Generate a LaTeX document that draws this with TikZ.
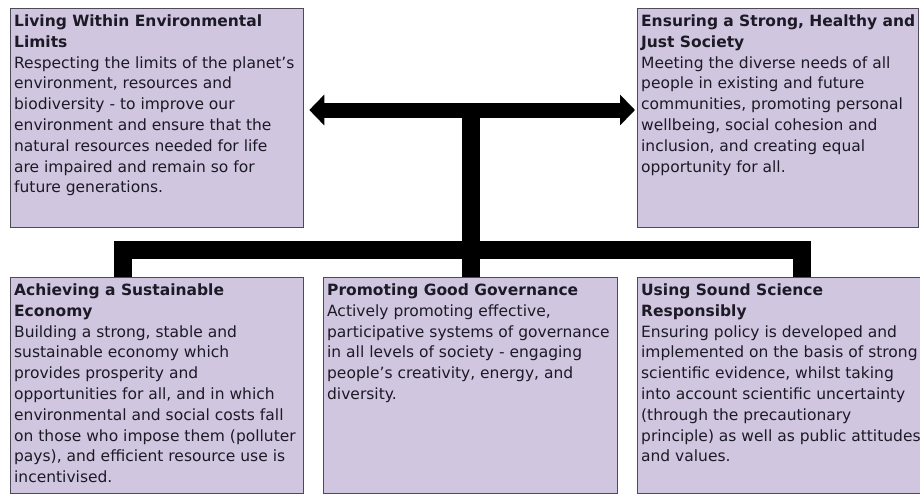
\documentclass[tikz,border=0pt]{standalone}
\usepackage{fontspec}
\setmainfont{DejaVu Sans}
\usetikzlibrary{arrows.meta}
\definecolor{boxfill}{HTML}{D1C6DF}
\definecolor{boxline}{HTML}{4B4A55}
\definecolor{boxtext}{HTML}{1C1A26}
\begin{document}
\begin{tikzpicture}[x=1pt, y=-1pt,
		pillar/.style={draw=boxline, fill=boxfill, line width=1.3pt, anchor=north west,
			inner xsep=3.5pt, inner ysep=6pt, text=boxtext,
			font=\fontsize{15.5}{20.8}\selectfont},
		trunk/.style={line width=18pt, line join=miter, black},
		bigarrow/.style={line width=15pt, black, {Triangle[length=15pt,width=30pt]}-{Triangle[length=15pt,width=30pt]}}]
		\useasboundingbox (0,0) rectangle (920,495);
		% top row
		\node[pillar] (env) at (10,8) {\parbox[t][207pt][t]{286pt}{\textbf{Living Within Environmental\\Limits}\\
			Respecting the limits of the planet's\\
			environment, resources and\\
			biodiversity - to improve our\\
			environment and ensure that the\\
			natural resources needed for life\\
			are impaired and remain so for\\
			future generations.}};
		\node[pillar] (soc) at (637,8) {\parbox[t][207pt][t]{274pt}{\textbf{Ensuring a Strong, Healthy and\\Just Society}\\
			Meeting the diverse needs of all\\
			people in existing and future\\
			communities, promoting personal\\
			wellbeing, social cohesion and\\
			inclusion, and creating equal\\
			opportunity for all.}};
		% bottom row
		\node[pillar] (eco) at (10,277) {\parbox[t][204pt][t]{286pt}{\textbf{Achieving a Sustainable\\Economy}\\
			Building a strong, stable and\\
			sustainable economy which\\
			provides prosperity and\\
			opportunities for all, and in which\\
			environmental and social costs fall\\
			on those who impose them (polluter\\
			pays), and efficient resource use is\\
			incentivised.}};
		\node[pillar] (gov) at (323,277) {\parbox[t][204pt][t]{287pt}{\textbf{Promoting Good Governance}\\
			Actively promoting effective,\\
			participative systems of governance\\
			in all levels of society - engaging\\
			people's creativity, energy, and\\
			diversity.}};
		\node[pillar] (sci) at (637,277) {\parbox[t][204pt][t]{293pt}{\textbf{Using Sound Science\\Responsibly}\\
			Ensuring policy is developed and\\
			implemented on the basis of strong\\
			scientific evidence, whilst taking\\
			into account scientific uncertainty\\
			(through the precautionary\\
			principle) as well as public attitudes\\
			and values.}};
		% connectors
		\coordinate (hub) at (gov.north |- 0,110);
		\coordinate (bar) at (gov.north |- 0,250);
		\draw[bigarrow, shorten <=5pt, shorten >=2pt] (env.east |- hub) -- (soc.west |- hub);
		\draw[trunk] (hub) -- (gov.north);
		\draw[trunk] ([xshift=-34.5pt]eco.north) |- (bar) -| ([xshift=14.5pt]sci.north);
		\end{tikzpicture}
\end{document}
